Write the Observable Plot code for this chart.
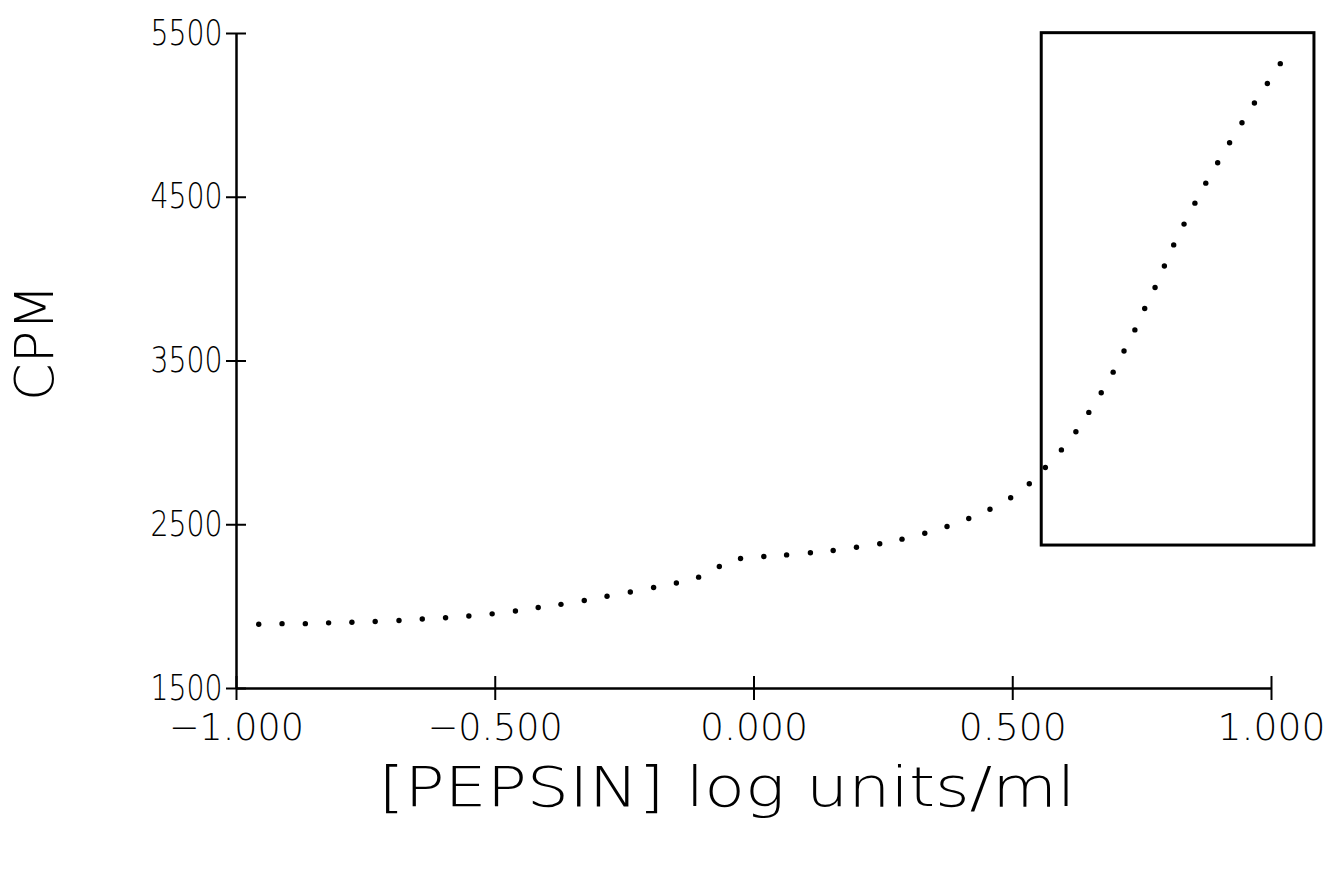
<!DOCTYPE html>
<html>
<head>
<meta charset="utf-8">
<script src="https://cdn.jsdelivr.net/npm/d3@7"></script>
<script src="https://cdn.jsdelivr.net/npm/@observablehq/plot@0.6"></script>
<style>
  html, body { margin: 0; padding: 0; background: #fff; }
  #chart svg { display: block; }
</style>
</head>
<body>
<div id="chart"></div>
<script>
// ---- data ----
const xTicks = [-1, -0.5, 0, 0.5, 1];
const yTicks = [1500, 2500, 3500, 4500, 5500];
const xLabel = "[PEPSIN] log units/ml";
const yLabel = "CPM";

const pepsinLog = [
  -0.957, -0.912, -0.867, -0.822, -0.777, -0.732, -0.686, -0.641, -0.596, -0.551,
  -0.506, -0.461, -0.417, -0.373, -0.328, -0.284, -0.239, -0.194, -0.150, -0.107,
  -0.067, -0.026, 0.019, 0.063, 0.109, 0.153, 0.198, 0.243, 0.286, 0.330,
  0.373, 0.415, 0.456, 0.496, 0.532, 0.563, 0.594, 0.622, 0.647, 0.671,
  0.694, 0.715, 0.736, 0.755, 0.775, 0.793, 0.811, 0.831, 0.852, 0.873,
  0.896, 0.919, 0.943, 0.967, 0.992, 1.017
];
const cpm = [
  1892, 1896, 1896, 1901, 1905, 1909, 1915, 1924, 1932, 1943,
  1956, 1973, 1995, 2014, 2037, 2063, 2089, 2117, 2144, 2180,
  2245, 2294, 2306, 2316, 2329, 2343, 2363, 2384, 2412, 2448,
  2489, 2538, 2595, 2665, 2750, 2850, 2957, 3068, 3186, 3306,
  3432, 3561, 3690, 3821, 3949, 4080, 4209, 4336, 4464, 4586,
  4711, 4833, 4955, 5076, 5195, 5316
];

// highlighted region (data units)
const boxX = [0.556, 1.083];
const boxY = [2373, 5502];

const points = pepsinLog.map((x, i) => ({x, y: cpm[i]}));
const box = [{x1: boxX[0], x2: boxX[1], y1: boxY[0], y2: boxY[1]}];

const font = '"DejaVu Sans", "Liberation Sans", sans-serif';

const chart = Plot.plot({
  width: 1335,
  height: 869,
  marginLeft: 236,
  marginRight: 64,
  marginTop: 33,
  marginBottom: 181,
  x: {domain: [-1, 1]},
  y: {domain: [1500, 5500]},
  style: {fontFamily: font, fontSize: "35px", fontWeight: 200, color: "#000", background: "#fff"},
  marks: [
    Plot.ruleX([-1], {stroke: "#000", strokeWidth: 2.5}),
    Plot.ruleY([1500], {stroke: "#000", strokeWidth: 2.5}),
    Plot.axisY(yTicks, {
      tickSize: 20, dx: 10, tickPadding: 4, strokeWidth: 2,
      tickFormat: d => String(d), label: null, fontSize: 35, className: "yticks"
    }),
    Plot.axisX(xTicks, {
      tickSize: 24, dy: -12, tickPadding: 13, strokeWidth: 2,
      tickFormat: d3.format(".3f"), label: null, fontSize: 38, className: "xticks"
    }),
    Plot.rect(box, {x1: "x1", x2: "x2", y1: "y1", y2: "y2", fill: "none", stroke: "#000", strokeWidth: 3}),
    Plot.dot(points, {x: "x", y: "y", r: 2.7, fill: "#000", stroke: "none"}),
    Plot.text([xLabel], {frameAnchor: "bottom", dx: -27, dy: 117, fontSize: 56, fill: "#000", className: "xlab"}),
    Plot.text([yLabel], {frameAnchor: "left", dx: -201, dy: 40, rotate: -90, fontSize: 54, fill: "#000", className: "ylab"})
  ]
});

document.getElementById("chart").appendChild(chart);

// fit text widths to the reference
const svg = d3.select(chart);
svg.selectAll(".xlab text").attr("textLength", 697).attr("lengthAdjust", "spacingAndGlyphs");
svg.selectAll(".yticks text").attr("textLength", 72).attr("lengthAdjust", "spacingAndGlyphs");
svg.selectAll(".xticks text").each(function() {
  const t = d3.select(this);
  t.attr("textLength", t.text().startsWith("\u2212") ? 135 : 108).attr("lengthAdjust", "spacingAndGlyphs");
});
</script>
</body>
</html>
